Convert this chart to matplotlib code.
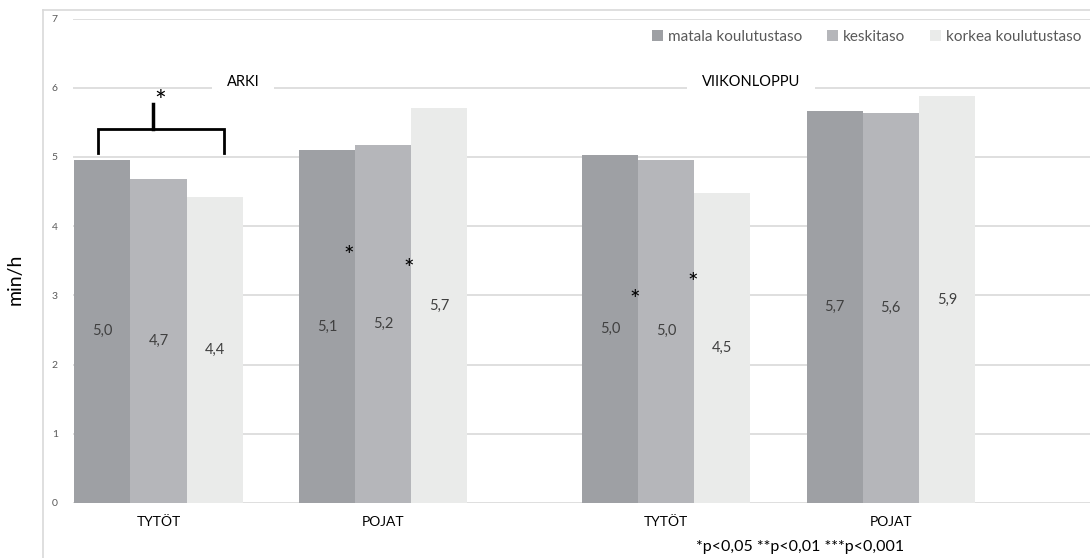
import numpy as np
import matplotlib
matplotlib.use("Agg")
import matplotlib.pyplot as plt
from matplotlib.patches import Patch
from matplotlib.lines import Line2D

plt.rcParams["font.family"] = ["Lato", "DejaVu Sans"]

# data
groups = ["TYTÖT", "POJAT", "TYTÖT", "POJAT"]
series = ["matala koulutustaso", "keskitaso", "korkea koulutustaso"]
matala = [4.96, 5.10, 5.03, 5.67]
keskitaso = [4.68, 5.17, 4.96, 5.63]
korkea = [4.42, 5.71, 4.48, 5.88]
period_labels = ["ARKI", "VIIKONLOPPU"]
footnote = "*p<0,05 **p<0,01 ***p<0,001"

colors = ["#9ea0a4", "#b5b6ba", "#eaebea"]
pos = np.array([0.0, 1.0, 2.26, 3.26])
width = 0.25

fig = plt.figure(figsize=(10.9, 5.58), dpi=100)
ax = fig.add_axes([73 / 1090, 1 - 503 / 558, 1 - 73 / 1090, (503 - 18.5) / 558])

for i, vals in enumerate([matala, keskitaso, korkea]):
    x = pos + (i - 1) * width
    ax.bar(x, vals, width=width, color=colors[i], zorder=2)
    for xi, v in zip(x, vals):
        ax.text(xi, v / 2, f"{v:.1f}".replace(".", ","), ha="center", va="center",
                fontsize=10.5, color="#404040", zorder=4)

ax.set_ylim(0, 7)
ax.set_xlim(-0.381, 4.147)
ax.set_yticks(range(8))
ax.yaxis.grid(True, color="#d9d9d9", linewidth=1.2)
ax.set_axisbelow(True)
ax.set_xticks(pos)
ax.set_xticklabels(groups, fontsize=10, color="#000000")
ax.tick_params(axis="x", length=0, pad=9)
ax.tick_params(axis="y", length=0, pad=11, labelsize=7.5, labelcolor="#595959")
for s in ax.spines.values():
    s.set_visible(False)

# period headers over the 6-line
for x, lab in zip([0.376, 2.638], period_labels):
    ax.text(x, 6.08, lab, ha="center", va="center", fontsize=10.5, color="#000000",
            bbox=dict(facecolor="white", edgecolor="none", boxstyle="square,pad=1.0"),
            zorder=3)

# significance bracket for girls on weekdays
bx = [-0.269, -0.269, 0.292, 0.292]
by = [5.05, 5.41, 5.41, 5.05]
ax.plot(bx, by, color="black", linewidth=2, solid_joinstyle="miter", zorder=5)
ax.plot([-0.024, -0.024], [5.41, 5.76], color="black", linewidth=2.5, zorder=5)
ax.text(0.007, 5.78, "*", ha="center", va="center", fontsize=20, color="black", zorder=5)

stars = [(1.0 - 0.151, 3.66), (1.0 + 0.116, 3.47), (2.26 - 0.142, 3.02), (2.26 + 0.12, 3.27)]
for sx, sy in stars:
    ax.text(sx, sy - 0.1, "*", ha="center", va="center", fontsize=18, color="black",
            zorder=5)

handles = [Patch(facecolor=c, edgecolor="none") for c in colors]
leg = ax.legend(handles, series, loc="upper right", bbox_to_anchor=(1.005, 1.005), ncol=3,
                frameon=False, fontsize=11, handlelength=0.7, handleheight=0.7,
                handletextpad=0.35, columnspacing=1.6, labelcolor="#595959")

fig.text(15 / 1090, 1 - 279 / 558, "min/h", rotation=90, ha="center", va="center",
         fontsize=14, color="black")
fig.text(800 / 1090, 1 - 547 / 558, footnote, ha="center", va="center", fontsize=11.5,
         color="black")

# outer chart frame
fig.add_artist(Line2D([43 / 1090, 43 / 1090], [0, 1 - 10 / 558], color="#d9d9d9",
                      linewidth=1.2, transform=fig.transFigure))
fig.add_artist(Line2D([43 / 1090, 1], [1 - 10 / 558, 1 - 10 / 558], color="#d9d9d9",
                      linewidth=1.2, transform=fig.transFigure))

fig.savefig("out.png", dpi=100)
